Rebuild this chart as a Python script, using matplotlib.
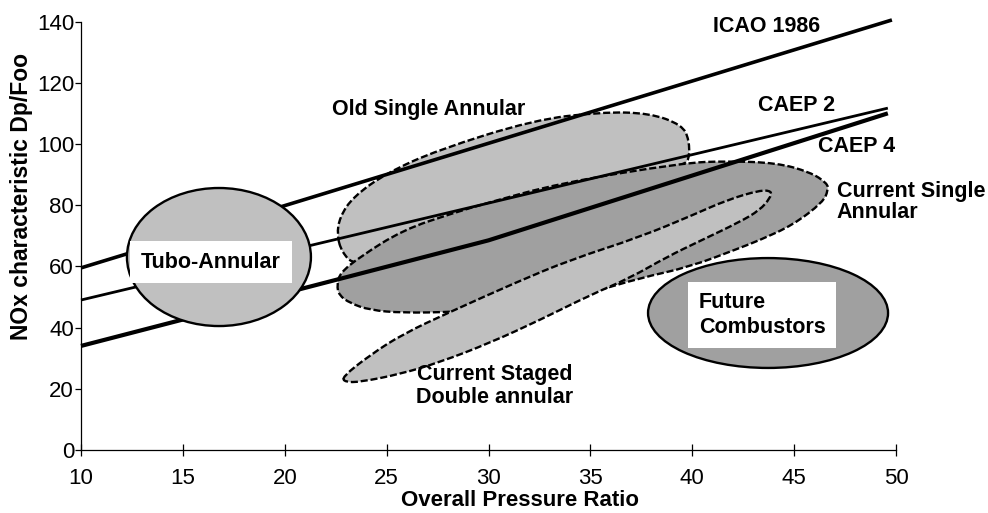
import numpy as np
import matplotlib
matplotlib.use('Agg')
import matplotlib.pyplot as plt
from matplotlib.patches import Ellipse, PathPatch
from matplotlib.path import Path

plt.rcParams['font.family'] = ['Liberation Sans', 'DejaVu Sans']

# limit lines: overall pressure ratio vs Dp/Foo
icao_opr = [10, 49.8]
icao_dp = [59.5, 140.5]
caep2_opr = [10, 49.6]
caep2_dp = [49.0, 111.7]
caep4_opr = [10, 30, 49.6]
caep4_dp = [34.0, 68.5, 110.0]

# combustor regions, outline points
old_sa_opr = [22.56, 22.7, 23.35, 25.0, 27.5, 32.2, 35.5, 37.9, 39.5, 39.85,
              39.85, 39.5, 35.5, 30.5, 25.7, 23.4, 22.8]
old_sa_dp = [70.2, 76.1, 82.7, 90.5, 98.0, 107.8, 110.4, 110.1, 106.2, 101.3,
             94.7, 93.1, 83.3, 72.0, 61.4, 60.4, 64.7]

cur_sa_opr = [22.56, 22.71, 23.69, 25.80, 28.26, 29.93, 33.51, 39.55, 41.71, 44.16,
              45.78, 46.62, 46.67, 46.42, 44.94, 43.32, 42.33, 39.87, 37.44, 34.98,
              31.55, 28.26, 25.80, 24.18, 23.20, 22.66]
cur_sa_dp = [53.9, 57.8, 63.1, 71.9, 77.4, 80.7, 87.2, 93.8, 94.4, 93.8,
             90.8, 87.2, 84.9, 81.0, 73.5, 68.6, 66.0, 59.8, 56.2, 51.3,
             46.4, 45.1, 44.8, 45.7, 48.0, 50.6]

staged_opr = [22.81, 24.18, 25.80, 28.11, 31.40, 34.00, 37.44, 40.04, 41.71, 43.32,
              43.91, 43.82, 43.32, 42.33, 40.38, 38.76, 36.94, 34.98, 32.53, 30.07,
              27.62, 25.66, 23.69, 22.96]
staged_dp = [23.8, 31.0, 37.9, 45.1, 54.9, 62.1, 69.6, 76.8, 81.7, 84.9,
             84.6, 82.3, 78.4, 74.5, 68.3, 63.1, 56.2, 50.6, 42.5, 35.0,
             28.7, 24.8, 22.2, 22.2]

tubo_center = (16.77, 63.05)
tubo_size = (9.03, 45.1)
future_center = (43.72, 44.76)
future_size = (11.78, 35.9)

LIGHT = '#c0c0c0'
DARK = '#a0a0a0'


def blob(xs, ys, **kw):
    # closed smooth outline through midpoints
    pts = np.column_stack([xs, ys])
    mids = (pts + np.roll(pts, -1, axis=0)) / 2
    verts = [mids[-1]]
    codes = [Path.MOVETO]
    for p, m in zip(pts, mids):
        verts += [p, m]
        codes += [Path.CURVE3, Path.CURVE3]
    verts.append(mids[-1])
    codes.append(Path.CLOSEPOLY)
    return PathPatch(Path(verts, codes), **kw)


fig = plt.figure(figsize=(9.88, 5.13), dpi=100)
ax = fig.add_axes([81 / 988, 1 - 450 / 513, 815 / 988, 428.5 / 513])

dash = (0, (3, 1.2))
ax.add_patch(blob(old_sa_opr, old_sa_dp, facecolor=LIGHT, edgecolor='black',
                  lw=1.7, ls=dash, zorder=1))
ax.add_patch(blob(cur_sa_opr, cur_sa_dp, facecolor=DARK, edgecolor='black',
                  lw=1.7, ls=dash, zorder=2))
ax.add_patch(blob(staged_opr, staged_dp, facecolor=LIGHT, edgecolor='black',
                  lw=1.7, ls=dash, zorder=3))
ax.add_patch(Ellipse(future_center, *future_size, facecolor=DARK,
                     edgecolor='black', lw=1.7, zorder=3))

ax.plot(icao_opr, icao_dp, color='black', lw=2.6, zorder=4, clip_on=False,
        solid_capstyle='butt')
ax.plot(caep2_opr, caep2_dp, color='black', lw=2.0, zorder=4, clip_on=False,
        solid_capstyle='butt')
ax.plot(caep4_opr, caep4_dp, color='black', lw=3.0, zorder=4, clip_on=False,
        solid_capstyle='butt')

ax.add_patch(Ellipse(tubo_center, *tubo_size, facecolor=LIGHT,
                     edgecolor='black', lw=1.7, zorder=5))

lab = dict(fontsize=15.5, fontweight='bold', zorder=6)
ax.text(41.02, 138.5, 'ICAO 1986', va='center', ha='left', **lab)
ax.text(43.23, 112.7, 'CAEP 2', va='center', ha='left', **lab)
ax.text(46.17, 99.0, 'CAEP 4', va='center', ha='left', **lab)
ax.text(47.10, 81.0, 'Current Single\nAnnular', va='center', ha='left',
        linespacing=1.05, **lab)
ax.text(22.32, 111.4, 'Old Single Annular', va='center', ha='left', **lab)
ax.text(30.32, 20.9, 'Current Staged\nDouble annular', va='center',
        ha='center', linespacing=1.12, **lab)
ax.text(16.38, 61.4, 'Tubo-Annular', va='center', ha='center',
        bbox=dict(boxstyle='square,pad=0.5', fc='white', ec='none'), **lab)
ax.text(40.33, 44.1, 'Future\nCombustors', va='center', ha='left',
        linespacing=1.2,
        bbox=dict(boxstyle='square,pad=0.5', fc='white', ec='none'), **lab)

ax.set_xlim(10, 50)
ax.set_ylim(0, 140)
ax.set_xticks(np.arange(10, 51, 5))
ax.set_yticks(np.arange(0, 141, 20))
for s in ['top', 'right']:
    ax.spines[s].set_visible(False)
for s in ['left', 'bottom']:
    ax.spines[s].set_linewidth(0.9)
ax.tick_params(axis='x', direction='inout', length=8, width=0.9, pad=9,
               labelsize=16)
ax.tick_params(axis='y', direction='out', length=4, width=0.9, pad=1,
               labelsize=16)

fig.text(22 / 988, 1 - 196 / 513, 'NOx characteristic Dp/Foo', rotation=90,
         ha='center', va='center', fontsize=16.5, fontweight='bold')
fig.text(519.5 / 988, 1 - 501 / 513, 'Overall Pressure Ratio', ha='center',
         va='center', fontsize=16, fontweight='bold')

fig.savefig('out.png', dpi=100, facecolor='white')
